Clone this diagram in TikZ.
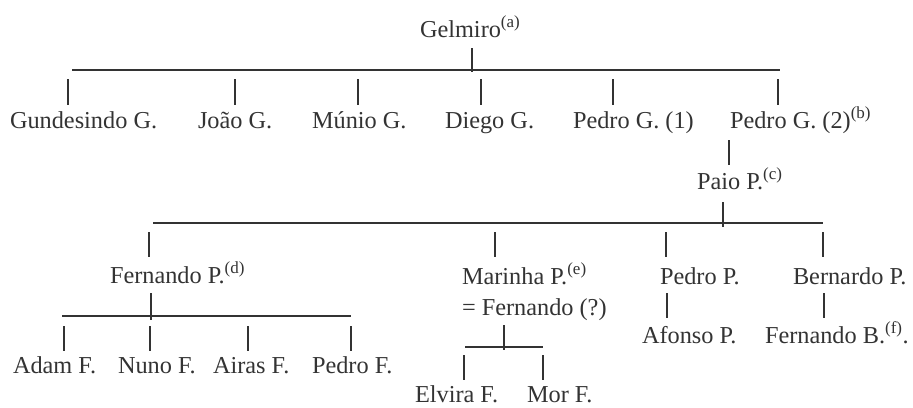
\documentclass[tikz,border=0pt]{standalone}
\usepackage{fontspec}
\setmainfont{Liberation Serif}
\definecolor{ink}{HTML}{333333}
\begin{document}
\begin{tikzpicture}[x=1pt,y=-1pt,
  txt/.style={anchor=base west, inner sep=0pt, outer sep=0pt, font=\fontsize{24.3}{28}\selectfont, text=ink},
  link/.style={draw=ink, line width=1.3pt}]
\useasboundingbox (0,0) rectangle (913,407);
\newcommand{\sups}[1]{\textsuperscript{(#1)}}
% level 0
\node[txt] (gel) at (420,37) {Gelmiro\sups{a}};
% level 1
\node[txt] (gun) at (10,128) {Gundesindo G.};
\node[txt] (joa) at (198,128) {João G.};
\node[txt] (mun) at (312,128) {Múnio G.};
\node[txt] (die) at (445,128) {Diego G.};
\node[txt] (pg1) at (573,128) {Pedro G. (1)};
\node[txt] (pg2) at (730,128) {Pedro G. (2)\sups{b}};
% level 2
\node[txt] (pai) at (697,189) {Paio P.\sups{c}};
% level 3
\node[txt] (fer) at (110,283) {Fernando P.\sups{d}};
\node[txt] (mar) at (462,284) {Marinha P.\sups{e}};
\node[txt] (mar2) at (462,315) {= Fernando (?)};
\node[txt] (pep) at (660,284) {Pedro P.};
\node[txt] (ber) at (793,284) {Bernardo P.};
% level 4
\node[txt] (ada) at (13,373) {Adam F.};
\node[txt] (nun) at (118,373) {Nuno F.};
\node[txt] (air) at (213,373) {Airas F.};
\node[txt] (pef) at (312,373) {Pedro F.};
\node[txt] (afo) at (642,343) {Afonso P.};
\node[txt] (feb) at (765,343) {Fernando B.\sups{f}.};
\node[txt] (elv) at (415,402) {Elvira F.};
\node[txt] (mor) at (527,402) {Mor F.};

% --- Gelmiro family bar
\coordinate (gA) at (472,48);
\coordinate (gB) at (472,72);
\coordinate (barL1) at (72,70);
\coordinate (barR1) at (780,70);
\draw[link] (gA) -- (gB);
\draw[link] (barL1) -- (barR1);
\foreach \n/\x in {gun/68, joa/235, mun/358, die/481, pg1/613, pg2/778}{
  \coordinate (\n-t) at (\x,79);
  \coordinate (\n-b) at (\x,105);
  \draw[link] (\n-t) -- (\n-b);
}
% --- Pedro G. (2) -> Paio P.
\coordinate (pg2A) at (729,140);
\coordinate (pg2B) at (729,165);
\draw[link] (pg2A) -- (pg2B);
% --- Paio P. family bar
\coordinate (paA) at (723,202);
\coordinate (paB) at (723,227);
\coordinate (barL2) at (153,223);
\coordinate (barR2) at (823,223);
\draw[link] (paA) -- (paB);
\draw[link] (barL2) -- (barR2);
\foreach \n/\x in {fer/149, mar/495, pep/666, ber/823}{
  \coordinate (\n-t) at (\x,232);
  \coordinate (\n-b) at (\x,257);
  \draw[link] (\n-t) -- (\n-b);
}
% --- Fernando P. family bar
\coordinate (feA) at (151,293);
\coordinate (feB) at (151,320);
\coordinate (barL3) at (62,316);
\coordinate (barR3) at (351,316);
\draw[link] (feA) -- (feB);
\draw[link] (barL3) -- (barR3);
\foreach \n/\x in {ada/64, nun/150, air/248, pef/351}{
  \coordinate (\n-t) at (\x,326);
  \coordinate (\n-b) at (\x,351);
  \draw[link] (\n-t) -- (\n-b);
}
% --- Marinha family bar
\coordinate (maA) at (504,325);
\coordinate (maB) at (504,350);
\coordinate (barL4) at (465,347);
\coordinate (barR4) at (543,347);
\draw[link] (maA) -- (maB);
\draw[link] (barL4) -- (barR4);
\foreach \n/\x in {elv/464, mor/543}{
  \coordinate (\n-t) at (\x,355);
  \coordinate (\n-b) at (\x,380);
  \draw[link] (\n-t) -- (\n-b);
}
% --- Pedro P. -> Afonso P. ; Bernardo P. -> Fernando B.
\coordinate (peA) at (667,293);
\coordinate (peB) at (667,318);
\draw[link] (peA) -- (peB);
\coordinate (beA) at (824,293);
\coordinate (beB) at (824,318);
\draw[link] (beA) -- (beB);
\end{tikzpicture}
\end{document}
